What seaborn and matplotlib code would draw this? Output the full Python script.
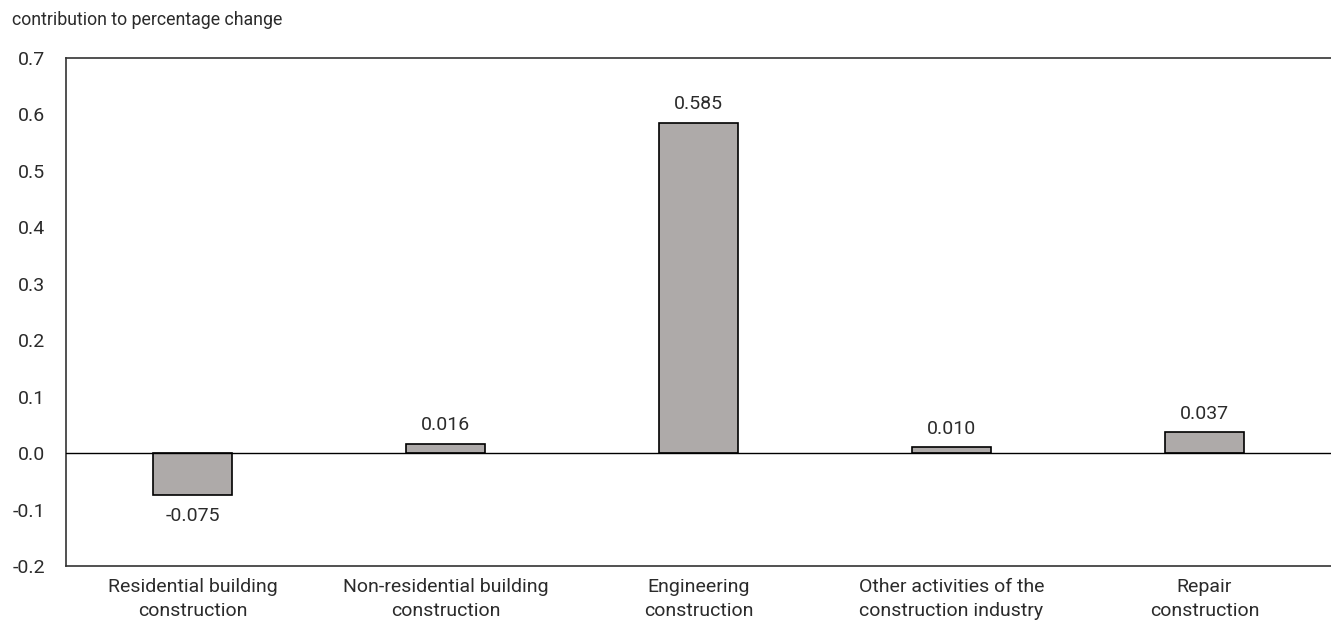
import matplotlib
matplotlib.use("Agg")
import matplotlib.pyplot as plt
import seaborn as sns
import pandas as pd
from matplotlib import font_manager

categories = ["Residential building\nconstruction",
              "Non-residential building\nconstruction",
              "Engineering\nconstruction",
              "Other activities of the\nconstruction industry",
              "Repair\nconstruction"]
values = [-0.075, 0.016, 0.585, 0.010, 0.037]
labels = ["-0.075", "0.016", "0.585", "0.010", "0.037"]
yticks = [-0.2, -0.1, 0.0, 0.1, 0.2, 0.3, 0.4, 0.5, 0.6, 0.7]

sns.set_style("white")
names = {f.name for f in font_manager.fontManager.ttflist}
fam = "Liberation Sans Narrow" if "Liberation Sans Narrow" in names else "Roboto"
plt.rcParams['font.family'] = [fam, 'DejaVu Sans']

text_col = "#2b2b2b"
fs = 14
df = pd.DataFrame({"cat": categories, "val": values})

fig = plt.figure(figsize=(13.31, 6.2), dpi=100)
ax = fig.add_axes([66/1331, 1-566/620, (1331-66)/1331, (566-58)/620])
sns.barplot(data=df, x="cat", y="val", ax=ax, color="#aeaaa9",
            edgecolor="black", linewidth=1.2, width=0.316, saturation=1)

ax.set_ylim(-0.2, 0.7)
ax.set_xlim(-0.5, 4.5)
ax.set_yticks(yticks)
ax.set_yticklabels([f"{t:.1f}" for t in yticks], fontsize=fs, color=text_col)
ax.tick_params(axis='x', labelsize=fs, colors=text_col, length=0, pad=9)
ax.tick_params(axis='y', length=0, pad=15)
for lab in ax.get_xticklabels():
    lab.set_linespacing(1.4)
    lab.set_color(text_col)
ax.set_xlabel("")
ax.set_ylabel("")
ax.axhline(0, color="black", linewidth=1.0, zorder=3)
for s in ["left", "bottom", "top"]:
    ax.spines[s].set_color("#333333")
    ax.spines[s].set_linewidth(1.2)
ax.spines["right"].set_visible(False)

for i, (v, l) in enumerate(zip(values, labels)):
    if v >= 0:
        ax.annotate(l, (i, v), xytext=(0, 7), textcoords="offset points",
                    ha="center", va="bottom", fontsize=fs, color=text_col)
    else:
        ax.annotate(l, (i, v), xytext=(0, -8), textcoords="offset points",
                    ha="center", va="top", fontsize=fs, color=text_col)

fig.text(12/1331, 1-20/620, "contribution to percentage change", fontsize=12.8,
         color=text_col, ha="left", va="center")

fig.savefig("out.png", dpi=100)
